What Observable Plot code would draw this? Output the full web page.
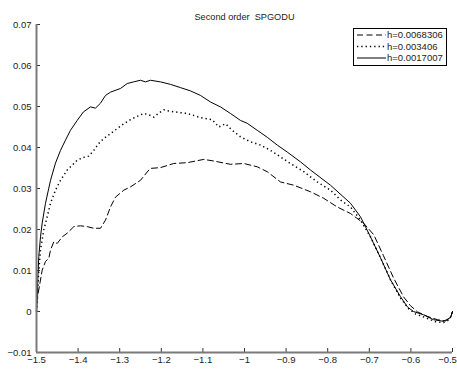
<!DOCTYPE html>
<html>
<head>
<meta charset="utf-8">
<script src="https://cdn.jsdelivr.net/npm/d3@7"></script>
<script src="https://cdn.jsdelivr.net/npm/@observablehq/plot@0.6"></script>
<style>
  html, body { margin: 0; padding: 0; background: #fff; }
  #wrap { position: relative; width: 457px; height: 369px; font-family: "Liberation Sans", Arial, sans-serif; }
  #legend { position: absolute; left: 353px; top: 28px; }
</style>
</head>
<body>
<div id="wrap"></div>
<script>
const title = "Second order  SPGODU";
const seriesNames = ["h=0.0068306", "h=0.003406", "h=0.0017007"];
const xTicks = [-1.5, -1.4, -1.3, -1.2, -1.1, -1, -0.9, -0.8, -0.7, -0.6, -0.5];
const yTicks = [-0.01, 0, 0.01, 0.02, 0.03, 0.04, 0.05, 0.06, 0.07];

// h=0.0068306 (dashed)
const dashX = [-1.5, -1.4988, -1.4945, -1.4863, -1.4784, -1.4704, -1.4663, -1.4584, -1.4502, -1.4382, -1.4262, -1.4103, -1.3942, -1.3781, -1.3623, -1.3462, -1.3341, -1.3221, -1.3101, -1.2901, -1.274, -1.25, -1.23, -1.226, -1.2019, -1.17, -1.1377, -1.0978, -1.0738, -1.0337, -1.0017, -0.9695, -0.9454, -0.9135, -0.8815, -0.8413, -0.8094, -0.7772, -0.7452, -0.7132, -0.6892, -0.6659, -0.6418, -0.6178, -0.601, -0.5841, -0.5601, -0.5361, -0.5168, -0.5048, -0.5];
const dashY = [0, 0.0028, 0.0053, 0.0101, 0.0122, 0.013, 0.015, 0.017, 0.0166, 0.0182, 0.0191, 0.0207, 0.0209, 0.0207, 0.0203, 0.0203, 0.0223, 0.0255, 0.0279, 0.0296, 0.0304, 0.032, 0.0345, 0.0349, 0.0351, 0.0361, 0.0363, 0.0371, 0.0367, 0.0359, 0.0361, 0.0353, 0.0341, 0.0316, 0.0308, 0.0292, 0.0276, 0.0255, 0.0239, 0.0215, 0.0187, 0.0136, 0.0082, 0.0036, 0.0014, -0.0001, -0.0012, -0.002, -0.0023, -0.0015, 0];

// h=0.003406 (dotted)
const dotX = [-1.5, -1.4983, -1.4952, -1.4904, -1.4825, -1.4743, -1.4663, -1.4543, -1.4423, -1.4262, -1.4142, -1.4022, -1.3863, -1.3743, -1.3623, -1.3502, -1.3382, -1.3221, -1.306, -1.2901, -1.274, -1.2579, -1.2421, -1.23, -1.218, -1.206, -1.194, -1.182, -1.17, -1.1377, -1.1058, -1.0776, -1.0618, -1.0457, -1.0296, -1.0096, -0.9856, -0.9615, -0.9375, -0.9135, -0.8894, -0.8575, -0.8252, -0.7933, -0.7692, -0.7452, -0.7212, -0.6971, -0.6731, -0.649, -0.625, -0.6058, -0.5889, -0.5649, -0.5409, -0.5216, -0.5072, -0.5];
const dotY = [0, 0.0021, 0.0089, 0.015, 0.0199, 0.0231, 0.0264, 0.0296, 0.032, 0.0345, 0.0357, 0.0369, 0.0376, 0.0379, 0.0393, 0.041, 0.0422, 0.0434, 0.0446, 0.0458, 0.0468, 0.0476, 0.0483, 0.048, 0.0474, 0.0484, 0.0492, 0.0489, 0.0487, 0.0483, 0.0473, 0.0468, 0.045, 0.0458, 0.0442, 0.0426, 0.0414, 0.0406, 0.0393, 0.0377, 0.0361, 0.0341, 0.0316, 0.0296, 0.0272, 0.0255, 0.0223, 0.0182, 0.0131, 0.0077, 0.0033, 0.0007, -0.0006, -0.0015, -0.0025, -0.0027, -0.002, 0];

// h=0.0017007 (solid)
const solidX = [-1.5, -1.4983, -1.4964, -1.4945, -1.4904, -1.4863, -1.4784, -1.4663, -1.4543, -1.4423, -1.4303, -1.4183, -1.4022, -1.387, -1.3702, -1.3582, -1.3462, -1.3341, -1.3221, -1.2981, -1.282, -1.2668, -1.25, -1.238, -1.226, -1.2019, -1.1779, -1.1538, -1.1298, -1.1058, -1.0817, -1.0577, -1.0337, -1.0096, -0.9935, -0.9695, -0.9454, -0.9214, -0.8974, -0.8654, -0.8413, -0.7933, -0.7452, -0.7212, -0.6971, -0.6731, -0.649, -0.625, -0.6082, -0.5938, -0.5697, -0.5457, -0.5216, -0.5048, -0.5];
const solidY = [0, 0.0028, 0.0089, 0.0134, 0.0182, 0.0216, 0.0264, 0.032, 0.0362, 0.0393, 0.0418, 0.0442, 0.0466, 0.0487, 0.0499, 0.0496, 0.0508, 0.0527, 0.0535, 0.0544, 0.0556, 0.056, 0.0564, 0.056, 0.0564, 0.056, 0.0554, 0.0546, 0.0538, 0.0527, 0.0511, 0.0499, 0.0483, 0.0466, 0.0459, 0.0442, 0.0425, 0.0406, 0.0389, 0.0365, 0.0345, 0.0308, 0.0264, 0.0231, 0.0182, 0.0131, 0.0077, 0.0036, 0.0011, 0, -0.0008, -0.002, -0.0024, -0.0015, 0];

const zip = (xs, ys) => xs.map((x, i) => ({x, y: ys[i]}));
const dashData = zip(dashX, dashY);
const dotData = zip(dotX, dotY);
const solidData = zip(solidX, solidY);

const fmt = d => {
  const s = String(+d.toFixed(4));
  return s.startsWith("-") ? "\u2212" + s.slice(1) : s;
};

const W = 457, H = 369, mL = 36, mR = 5, mT = 24, mB = 17;
const frameW = W - mL - mR, frameH = H - mT - mB;
const tickLen = 4;
const axisColor = "#7a7a7a";
const lastX = xTicks[xTicks.length - 1];

const chart = Plot.plot({
  width: W,
  height: H,
  marginLeft: mL,
  marginRight: mR,
  marginTop: mT,
  marginBottom: mB,
  style: {fontFamily: "'Liberation Sans', Arial, sans-serif", fontSize: "9.5px", color: "#222", background: "white"},
  x: {domain: [-1.5, -0.5]},
  y: {domain: [-0.01, 0.07]},
  marks: [
    Plot.axisX(xTicks.slice(0, -1), {tickSize: 0, tickPadding: 4, tickFormat: fmt, label: null, fill: "#222"}),
    Plot.axisX([lastX], {tickSize: 0, tickPadding: 4, tickFormat: fmt, label: null, fill: "#222", dx: -5}),
    Plot.axisY(yTicks, {tickSize: 0, tickPadding: 5, tickFormat: fmt, label: null, fill: "#222"}),
    Plot.tickX(xTicks, {x: d => d, insetTop: frameH - tickLen, stroke: "#333", strokeWidth: 1}),
    Plot.tickY(yTicks, {y: d => d, insetRight: frameW - tickLen, stroke: "#333", strokeWidth: 1}),
    Plot.line(dashData, {x: "x", y: "y", stroke: "black", strokeWidth: 1, strokeDasharray: "6,3.5"}),
    Plot.line(dotData, {x: "x", y: "y", stroke: "black", strokeWidth: 1.5, strokeDasharray: "1.3,3", strokeLinecap: "butt"}),
    Plot.line(solidData, {x: "x", y: "y", stroke: "black", strokeWidth: 1}),
    Plot.ruleX([xTicks[0]], {stroke: axisColor, strokeWidth: 2}),
    Plot.ruleY([yTicks[0]], {stroke: axisColor, strokeWidth: 2}),
    Plot.text([title], {frameAnchor: "top", dy: -11, text: d => d, fontSize: 9.2, fill: "#222", style: "white-space: pre"})
  ]
});

const wrap = document.getElementById("wrap");
wrap.appendChild(chart);

// Legend
const legend = document.createElement("div");
legend.id = "legend";
const dashes = ["6,3.5", "1.3,3", null];
const widths = [1, 1.5, 1];
const lw = 94, lh = 38;
let svg = `<svg width="${lw}" height="${lh}" xmlns="http://www.w3.org/2000/svg" style="display:block;font-family:'Liberation Sans',Arial,sans-serif;font-size:9.5px">`;
svg += `<rect x="0.5" y="0.5" width="${lw - 1}" height="${lh - 1}" fill="white" stroke="black" stroke-width="1"/>`;
seriesNames.forEach((name, i) => {
  const yy = 7 + i * 11.5;
  svg += `<line x1="4" x2="33" y1="${yy}" y2="${yy}" stroke="black" stroke-width="${widths[i]}"${dashes[i] ? ` stroke-dasharray="${dashes[i]}"` : ""}/>`;
  svg += `<text x="34" y="${yy}" dy="0.35em" fill="#222">${name}</text>`;
});
svg += `</svg>`;
legend.innerHTML = svg;
wrap.appendChild(legend);
</script>
</body>
</html>
